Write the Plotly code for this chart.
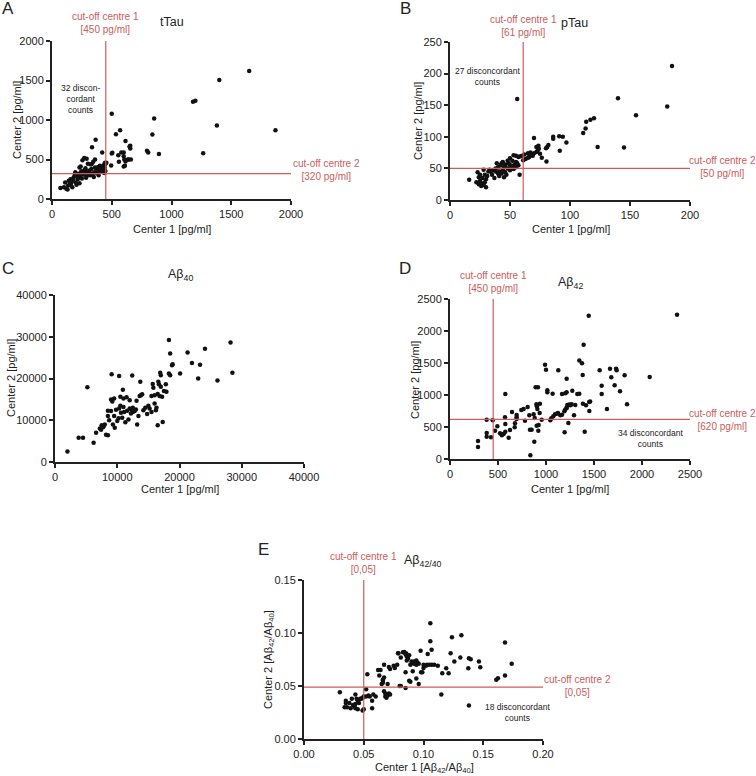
import plotly.graph_objects as go

# ---------------- DATA ----------------
# Panel A: tTau
ttau_c1 = [1650,1400,1180,1200,855,500,1380,1870,570,535,615,840,365,335,795,805,895,1265,655,650,
           500,505,580,600,555,600,615,605,635,610,600,495,560,420,430,445,440,455,445,440,440,410,
           400,390,380,360,345,330,320,300,280,255,270,290,240,230,
           70,100,110,120,130,135,140,150,155,160,170,175,180,190,195,200,205,210,215,220,225,230,
           240,245,250,260,265,270,280,285,290,295,300,310,315,320,330,340,350,355,360,370,375,380,
           390,395,410,420,430,445,445,650,655,640,660]
ttau_c2 = [1620,1505,1230,1245,1020,1080,930,870,870,820,735,815,750,655,610,590,570,580,675,660,
           575,585,590,590,555,540,475,500,500,420,410,425,470,590,420,440,450,460,350,400,330,410,
           420,405,400,500,470,440,440,445,390,490,520,510,410,400,
           140,150,210,130,120,170,230,180,250,200,150,230,270,300,340,210,180,290,250,320,280,200,
           300,350,260,340,310,360,330,270,290,350,310,330,360,300,380,320,280,340,400,390,330,350,
           300,360,350,380,340,360,460,665,640,500,500]

# Panel B: pTau
ptau_c1 = [185,140,56,181,155,120,117,113.5,113,111,123,145,97,91,94,91.5,86,86,82,81,80,80.4,76.5,70,
           72,73.7,74,60,62,63,65,66,67,68,69,70,72,73,75,65,61,58,55,57,53,50,58,
           16,22,23,24,24,25,26,27,27,28,28,29,30,30,31,32,33,35,36,37,38,39,40,41,41,42,43,43,
           44,45,45,46,46,47,48,49,50,50,51,52,53,54,55,55,56,57,52,48,44,46,40,38,34,29,25]
ptau_c2 = [212,161,160,148,134,129.5,127,124,113,106,84,83,91,101,100,78,100,97,87,84,82,61,67,98,
           84,86,81,70,72,65,74,68,75,71,70,74,76,78,73,67,63,69,70,68,71,66,40,
           32,28,44,25,36,30,22,26,35,48,24,40,20,33,38,45,48,40,47,35,50,58,52,45,38,55,42,58,
           48,36,52,44,56,40,50,58,47,55,52,54,49,56,52,60,58,55,62,62,60,53,42,45,45,28,40]

# Panel C: Abeta40
ab40_c1 = [2000,3800,4500,5200,6200,6600,7200,7500,7700,7400,8200,8500,8700,8500,9100,10300,12400,10900,
           13700,18300,18500,21300,24100,28200,28500,26100,23000,22000,23300,20100,18800,18900,18300,18500,
           9000,9200,9500,9000,9500,9800,10000,10200,10300,10500,10600,10800,11000,11100,11300,11500,11600,
           11800,12000,12200,12300,12500,12600,12800,13000,13100,13200,13400,13600,13800,14000,14200,14800,
           15000,15200,15500,15700,15800,16000,16200,16300,16500,16600,16700,16800,16500,16900,17000,17200,
           17300,17500,17800,17900,8000,7800,9300,9600,12000,12500,11000,8500,10500,14500,15500,16000,17000]
ab40_c2 = [2500,5800,5800,17900,4600,7000,8000,8800,8300,7700,6500,6400,10000,11000,21000,20600,20700,17300,
           19200,29200,26000,26200,27100,28600,21400,19500,20000,23700,23300,21200,23200,23400,21200,20800,
           15000,14500,15200,12200,11000,12500,9800,10500,12800,13500,11800,10600,15200,12000,9500,15500,12300,
           10200,14800,11600,12500,12000,12300,12200,12600,14700,9000,11000,15800,16000,16200,12400,11500,
           13500,12800,15800,18700,17800,16000,12400,13000,16300,19200,18600,15800,8800,21400,18000,15600,
           9600,17000,18600,16800,9000,8500,9000,8200,12800,13000,13200,12300,15600,13000,12000,14000,20800]

# Panel D: Abeta42
ab42_c1 = [1445,2365,1392,1347,1375,990,1000,1128,1215,1382,1559,1667,1680,1730,1736,1819,2080,1580,1580,
           1715,1771,1844,1635,1450,1460,1385,1417,1403,1451,1274,1326,1347,1215,1201,1167,1014,1014,1069,
           892,916,1255,1235,1215,1292,1233,1194,576,837,878,292,292,382,382,382,427,444,469,493,521,540,
           550,560,576,576,573,611,625,646,674,694,694,694,677,743,767,781,809,826,833,850,871,882,903,923,
           900,905,910,937,934,920,955,1045,1055,1076,1094,1111,1125,1149,1167,1191,1200,1215,1222,1245,
           1267,1305]
ab42_c2 = [2240,2255,1786,1541,1495,1474,1396,1385,1255,1312,1385,1411,1276,1411,1385,1307,1281,1146,1016,
           1151,1057,854,781,890,900,864,838,427,750,1068,1016,1021,1042,1026,1016,1073,1042,1021,
           1120,1120,840,845,800,682,562,417,1016,57,271,281,187,615,406,349,338,604,443,510,401,370,
           385,395,427,547,651,333,453,734,495,651,687,625,557,766,781,599,812,682,458,458,698,641,521,531,
           854,823,781,865,719,443,614,604,635,667,698,708,719,682,693,745,770,797,844,850,
           854,844]

# Panel E: Abeta42/40 ratio
ratio_c1 = [0.1057,0.1317,0.1238,0.1682,0.1057,0.1068,0.0976,0.0828,0.0856,0.0787,0.1035,0.1227,0.138,0.1395,
            0.1464,0.1475,0.1375,0.1258,0.1308,0.1738,0.1682,0.1623,0.1609,0.119,0.121,0.1157,0.1149,0.138,
            0.100,0.102,0.103,0.105,0.107,0.109,0.112,0.100,0.099,0.094,0.095,0.096,0.094,0.092,0.092,0.088,
            0.087,0.086,0.086,0.089,0.090,0.085,0.084,0.081,0.079,0.075,0.071,0.067,0.072,0.076,0.062,0.064,
            0.053,0.085,0.091,0.088,0.089,0.094,0.096,0.098,0.080,0.081,0.085,0.067,0.066,0.066,0.065,0.070,
            0.067,0.068,0.069,0.070,0.071,0.072,0.068,0.069,0.060,0.058,0.057,0.057,0.055,0.054,0.052,0.052,
            0.050,0.049,0.048,0.047,0.050,0.049,0.046,0.045,0.043,0.044,0.043,0.042,0.041,0.043,0.040,0.038,
            0.035,0.035,0.034,0.036,0.030,0.039,0.045,0.066,0.063,0.078]
ratio_c2 = [0.1092,0.0979,0.0960,0.0910,0.0923,0.0841,0.0832,0.0819,0.0806,0.0810,0.0803,0.0810,0.0762,0.0753,
            0.0731,0.0678,0.0668,0.0731,0.0769,0.0709,0.0599,0.0574,0.0559,0.0668,0.0621,0.0621,0.0420,0.0317,
            0.070,0.069,0.070,0.070,0.070,0.070,0.069,0.067,0.063,0.074,0.072,0.071,0.070,0.073,0.071,0.079,
            0.076,0.074,0.078,0.070,0.073,0.080,0.082,0.077,0.081,0.069,0.068,0.070,0.066,0.067,0.065,0.065,
            0.061,0.063,0.064,0.055,0.054,0.057,0.052,0.063,0.050,0.050,0.048,0.058,0.055,0.053,0.052,0.052,
            0.045,0.043,0.042,0.041,0.043,0.042,0.040,0.039,0.040,0.042,0.036,0.029,0.040,0.041,0.040,0.047,
            0.040,0.039,0.038,0.038,0.028,0.027,0.034,0.036,0.042,0.038,0.033,0.031,0.032,0.029,0.038,0.034,
            0.036,0.034,0.030,0.030,0.044,0.029,0.028,0.056,0.060,0.070]

# cut-offs (centre 1, centre 2)
cut_ttau = [450, 320]
cut_ptau = [61, 50]
cut_ab42 = [450, 620]
cut_ratio = [0.05, 0.049]

# axis ranges / tick steps
rng_ttau = [0, 2000, 500]
rng_ptau = [0, 200, 50, 0, 250, 50]
rng_ab40 = [0, 40000, 10000]
rng_ab42 = [0, 2500, 500]
rng_ratio = [0, 0.20, 0.05, 0, 0.15, 0.05]

# ---------------- FIGURE ----------------
W, H = 756, 776
FONT = "Liberation Sans, Arial, sans-serif"
RED = "#cd5c5c"


def px(x):
    return x / W


def py(y):
    return 1 - y / H


fig = go.Figure()

panels = [
    (ttau_c1, ttau_c2, (52, 291), (41, 199), (rng_ttau[0], rng_ttau[1], rng_ttau[2]), (rng_ttau[0], rng_ttau[1], rng_ttau[2]), "d", "d"),
    (ptau_c1, ptau_c2, (450, 690), (42, 200), (rng_ptau[0], rng_ptau[1], rng_ptau[2]), (rng_ptau[3], rng_ptau[4], rng_ptau[5]), "d", "d"),
    (ab40_c1, ab40_c2, (55, 304), (295, 462), (rng_ab40[0], rng_ab40[1], rng_ab40[2]), (rng_ab40[0], rng_ab40[1], rng_ab40[2]), "d", "d"),
    (ab42_c1, ab42_c2, (450, 690), (299, 459), (rng_ab42[0], rng_ab42[1], rng_ab42[2]), (rng_ab42[0], rng_ab42[1], rng_ab42[2]), "d", "d"),
    (ratio_c1, ratio_c2, (304, 543), (580, 739), (rng_ratio[0], rng_ratio[1], rng_ratio[2]), (rng_ratio[3], rng_ratio[4], rng_ratio[5]), ".2f", ".2f"),
]

layout_axes = {}
for i, (c1, c2, xd, yd, xr, yr, xf, yf) in enumerate(panels, start=1):
    sfx = "" if i == 1 else str(i)
    fig.add_trace(go.Scatter(
        x=c1, y=c2, mode="markers",
        marker=dict(color="#111111", size=4.5, line=dict(width=0)),
        xaxis="x" + sfx, yaxis="y" + sfx, showlegend=False, cliponaxis=False,
        hoverinfo="x+y"))
    common = dict(showgrid=False, zeroline=False, showline=True, linecolor="#222222",
                  linewidth=2, ticks="outside", ticklen=4, tickwidth=2, tickcolor="#222222",
                  tickfont=dict(family=FONT, size=11, color="#222222"), mirror=False,
                  automargin=False)
    layout_axes["xaxis" + sfx] = dict(common, domain=[px(xd[0]), px(xd[1])],
                                      range=[xr[0], xr[1]], dtick=xr[2], tick0=0,
                                      tickformat=xf, anchor="y" + sfx)
    layout_axes["yaxis" + sfx] = dict(common, domain=[py(yd[1]), py(yd[0])],
                                      range=[yr[0], yr[1]], dtick=yr[2], tick0=0,
                                      tickformat=yf, anchor="x" + sfx)

fig.update_layout(**layout_axes)

# cut-off lines
shapes = []
cuts = [(1, cut_ttau, rng_ttau[1], rng_ttau[1]), (2, cut_ptau, rng_ptau[1], rng_ptau[4]),
        (4, cut_ab42, rng_ab42[1], rng_ab42[1]), (5, cut_ratio, rng_ratio[1], rng_ratio[4])]
for idx, cut, xmax, ymax in cuts:
    sfx = "" if idx == 1 else str(idx)
    shapes.append(dict(type="line", xref="x" + sfx, yref="y" + sfx, x0=cut[0], x1=cut[0], y0=0, y1=ymax,
                       line=dict(color=RED, width=1.2)))
    shapes.append(dict(type="line", xref="x" + sfx, yref="y" + sfx, x0=0, x1=xmax, y0=cut[1], y1=cut[1],
                       line=dict(color=RED, width=1.2)))
fig.update_layout(shapes=shapes)

ann = []


def add(text, x, y, size=11, color="#222222", angle=0, xanchor="center"):
    ann.append(dict(text=text, x=px(x), y=py(y), xref="paper", yref="paper", showarrow=False,
                    font=dict(family=FONT, size=size, color=color), textangle=angle,
                    xanchor=xanchor, yanchor="middle", align="center"))


# Panel letters
add("A", 8, 9, 17)
add("B", 405, 9, 17)
add("C", 8, 268, 17)
add("D", 405, 268, 17)
add("E", 263, 549, 17)

# Titles
add("tTau", 172, 22, 12.5)
add("pTau", 574, 23, 12.5)
add("Aβ<sub>40</sub>", 180, 275, 12.5)
add("Aβ<sub>42</sub>", 570, 283, 12.5)
add("Aβ<sub>42/40</sub>", 423, 561, 12.5)

# Axis titles
AT = 11
add("Center 1 [pg/ml]", 172, 229, AT)
add("Center 2 [pg/ml]", 17, 120, AT, angle=-90)
add("Center 1 [pg/ml]", 571, 229, AT)
add("Center 2 [pg/ml]", 418, 121, AT, angle=-90)
add("Center 1 [pg/ml]", 180, 489, AT)
add("Center 2 [pg/ml]", 11, 378, AT, angle=-90)
add("Center 1 [pg/ml]", 570, 489, AT)
add("Center 2 [pg/ml]", 415, 380, AT, angle=-90)
add("Center 1 [Aβ<sub>42</sub>/Aβ<sub>40</sub>]", 424, 768, AT)
add("Center 2 [Aβ<sub>42</sub>/Aβ<sub>40</sub>]", 269, 660, AT, angle=-90)

# Cut-off labels
CF = 10
add("cut-off centre 1<br>[450 pg/ml]", 105, 23, CF, RED)
add("cut-off centre 2<br>[320 pg/ml]", 326, 170, CF, RED)
add("cut-off centre 1<br>[61 pg/ml]", 523, 26, CF, RED)
add("cut-off centre 2<br>[50 pg/ml]", 722, 167, CF, RED)
add("cut-off centre 1<br>[450 pg/ml]", 493, 282, CF, RED)
add("cut-off centre 2<br>[620 pg/ml]", 722, 420, CF, RED)
add("cut-off centre 1<br>[0,05]", 363, 563, CF, RED)
add("cut-off centre 2<br>[0,05]", 577, 686, CF, RED)

# Discordance notes
NF = 8.5
add("32 discon-<br>cordant<br>counts", 80, 99, NF)
add("27 disconcordant<br>counts", 487, 77, NF)
add("34 disconcordant<br>counts", 650, 438, NF)
add("18 disconcordant<br>counts", 517, 712, NF)

fig.update_layout(annotations=ann, width=W, height=H,
                  margin=dict(l=0, r=0, t=0, b=0),
                  paper_bgcolor="white", plot_bgcolor="white",
                  font=dict(family=FONT))

fig.write_html("out.html", config={"displayModeBar": False},
               post_script="document.body.style.margin='0px';")
